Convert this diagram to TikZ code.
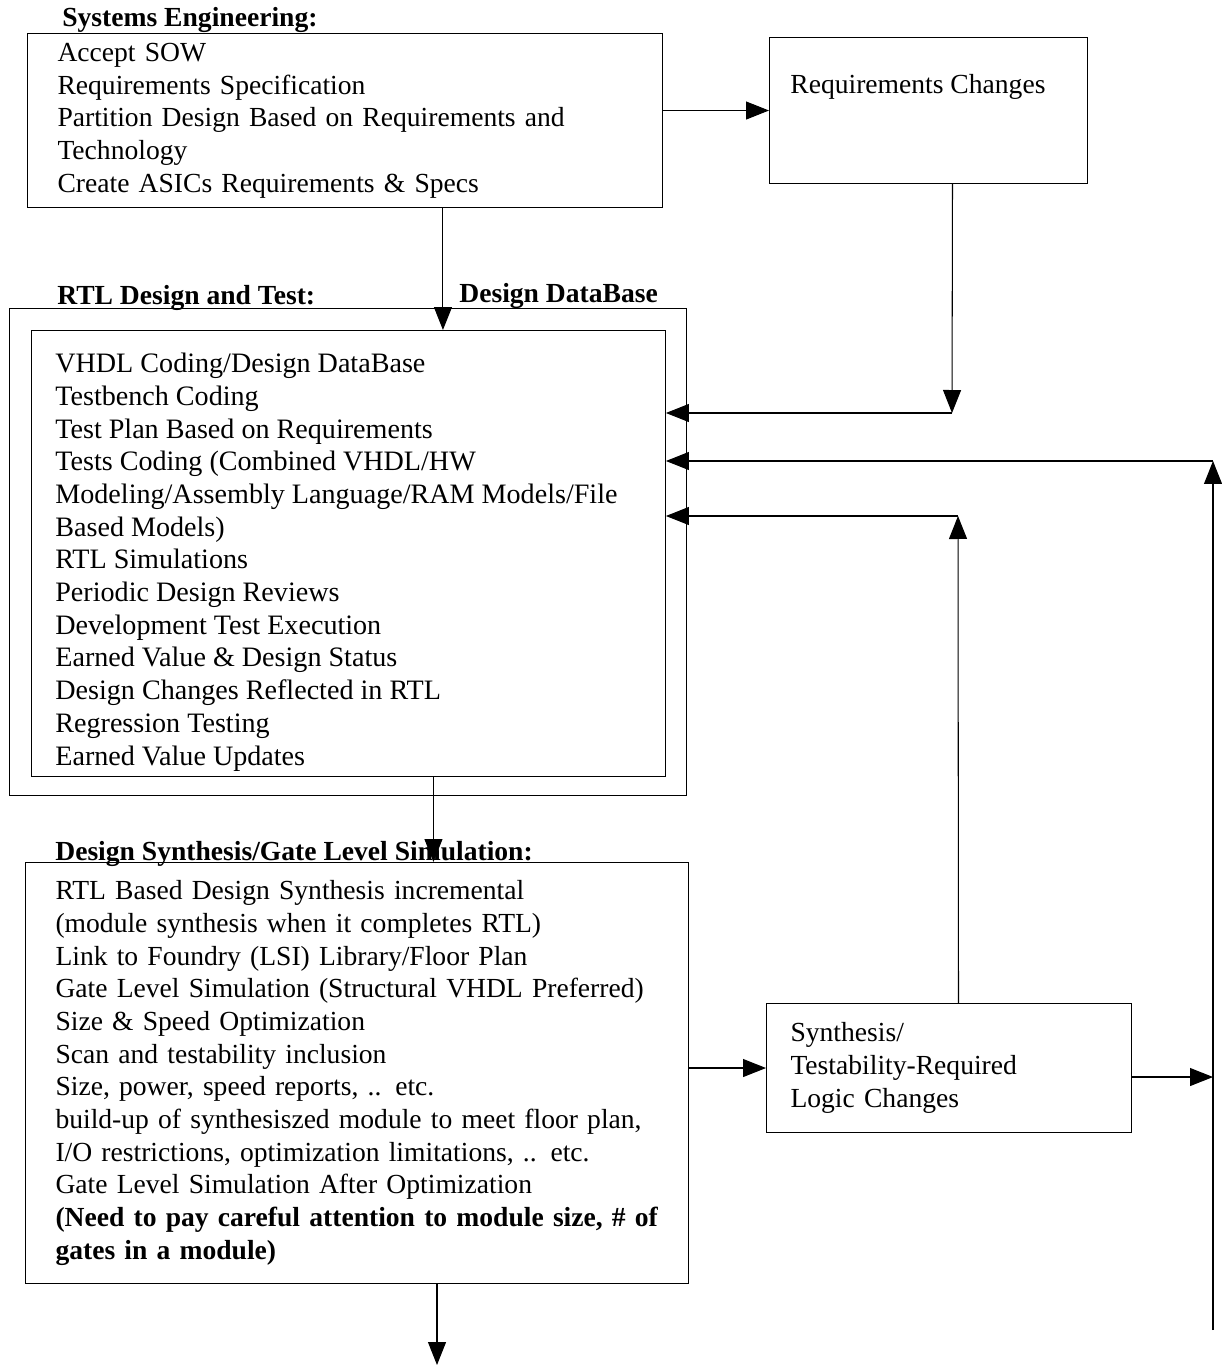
\documentclass[tikz,border=0pt]{standalone}
\usepackage{fontspec}
\setmainfont{Liberation Serif}
\usetikzlibrary{arrows.meta, calc}

\begin{document}
\begin{tikzpicture}[x=0.02cm, y=-0.02cm, >={Triangle[length=4.6mm, width=3.6mm]},
  every node/.style={font=\fontsize{15.7}{18.6}\selectfont},
  box/.style={draw, line width=0.6pt, anchor=north west, align=left, inner ysep=0pt},
  ttl/.style={anchor=base west, inner sep=0pt, font=\fontsize{15.7}{18.6}\selectfont\bfseries},
  arr/.style={->, line width=0.6pt}]
  \useasboundingbox (0,0) rectangle (1222,1368);
  % blocks
  \node[box, minimum width=12.7cm, minimum height=3.48cm, inner xsep=0.6cm, text width=11.5cm] (se) at (27,33)
    {Accept SOW\\Requirements Specification\\Partition Design Based on Requirements and\\Technology\\Create ASICs Requirements \& Specs};
  \node[ttl] (seT) at (62,27) {Systems Engineering:};
  \node[box, minimum width=6.36cm, minimum height=2.92cm] (rc) at (769,37) {};
  \node[anchor=west, inner sep=0pt] (rcT) at (790,87) {Requirements Changes};
  \node[box, minimum width=13.54cm, minimum height=9.74cm] (rtlOut) at (9,308) {};
  \node[ttl] (rtlT) at (57,305) {RTL Design and Test:};
  \node[ttl] (dbT) at (459,302) {Design DataBase};
  \node[box, minimum width=12.68cm, minimum height=8.92cm] (rtl) at (31,330) {};
  \node[anchor=north west, align=left, inner sep=0pt, font=\fontsize{16}{18.6}\selectfont] (rtlTxt) at (55,353)
    {VHDL Coding/Design DataBase\\Testbench Coding\\Test Plan Based on Requirements\\Tests Coding (Combined VHDL/HW\\Modeling/Assembly Language/RAM Models/File\\Based Models)\\RTL Simulations\\Periodic Design Reviews\\Development Test Execution\\Earned Value \& Design Status\\Design Changes Reflected in RTL\\Regression Testing\\Earned Value Updates};
  \node[box, minimum width=13.26cm, minimum height=8.42cm, inner xsep=0.6cm, text width=12.06cm] (ds) at (25,862)
    {RTL Based Design Synthesis incremental\\(module synthesis when it completes RTL)\\Link to Foundry (LSI) Library/Floor Plan\\Gate Level Simulation (Structural VHDL Preferred)\\Size \& Speed Optimization\\Scan and testability inclusion\\Size, power, speed reports, .. etc.\\build-up of synthesiszed module to meet floor plan,\\I/O restrictions, optimization limitations, .. etc.\\Gate Level Simulation After Optimization\\\textbf{(Need to pay careful attention to module size, \# of}\\\textbf{gates in a module)}};
  \node[ttl] (dsT) at (55,860) {Design Synthesis/Gate Level Simulation:};
  \node[box, minimum width=7.3cm, minimum height=2.58cm, inner xsep=0.48cm, text width=6.34cm] (synth) at (766,1003)
    {Synthesis/\\Testability-Required\\Logic Changes};
  % turning points
  \coordinate (rcTurn) at (952,413);
  \coordinate (synTurn) at (958,516);
  \coordinate (fbTop) at (1213,461);
  \coordinate (fbBot) at (1213,1330);
  \coordinate (dsOut) at (437,1365);
  % connectors
  \draw[arr] (se.east |- rc.west) -- (rc.west);
  \draw[arr] ([xshift=1.96cm]se.south) -- ([xshift=1.96cm]se.south |- rtl.north);
  \draw[arr] ([xshift=0.48cm]rc.south) -- (rcTurn);
  \draw[arr] (rcTurn) -- (rcTurn -| rtl.east);
  \draw[arr] ([xshift=0.19cm]synth.north) -- (synTurn);
  \draw[arr] (synTurn) -- (synTurn -| rtl.east);
  \draw[arr] (fbBot) -- (fbTop);
  \draw[arr] (fbTop) -- (fbTop -| rtl.east);
  \draw[arr] ([xshift=1.7cm]rtl.south) -- ([xshift=1.7cm]rtl.south |- ds.north);
  \draw[arr] (synth.west -| ds.east) -- (synth.west);
  \draw[arr] ([yshift=-0.18cm]synth.east) -- ([yshift=-0.18cm]synth.east -| fbBot);
  \draw[arr] (ds.south -| dsOut) -- (dsOut);
\end{tikzpicture}
\end{document}
